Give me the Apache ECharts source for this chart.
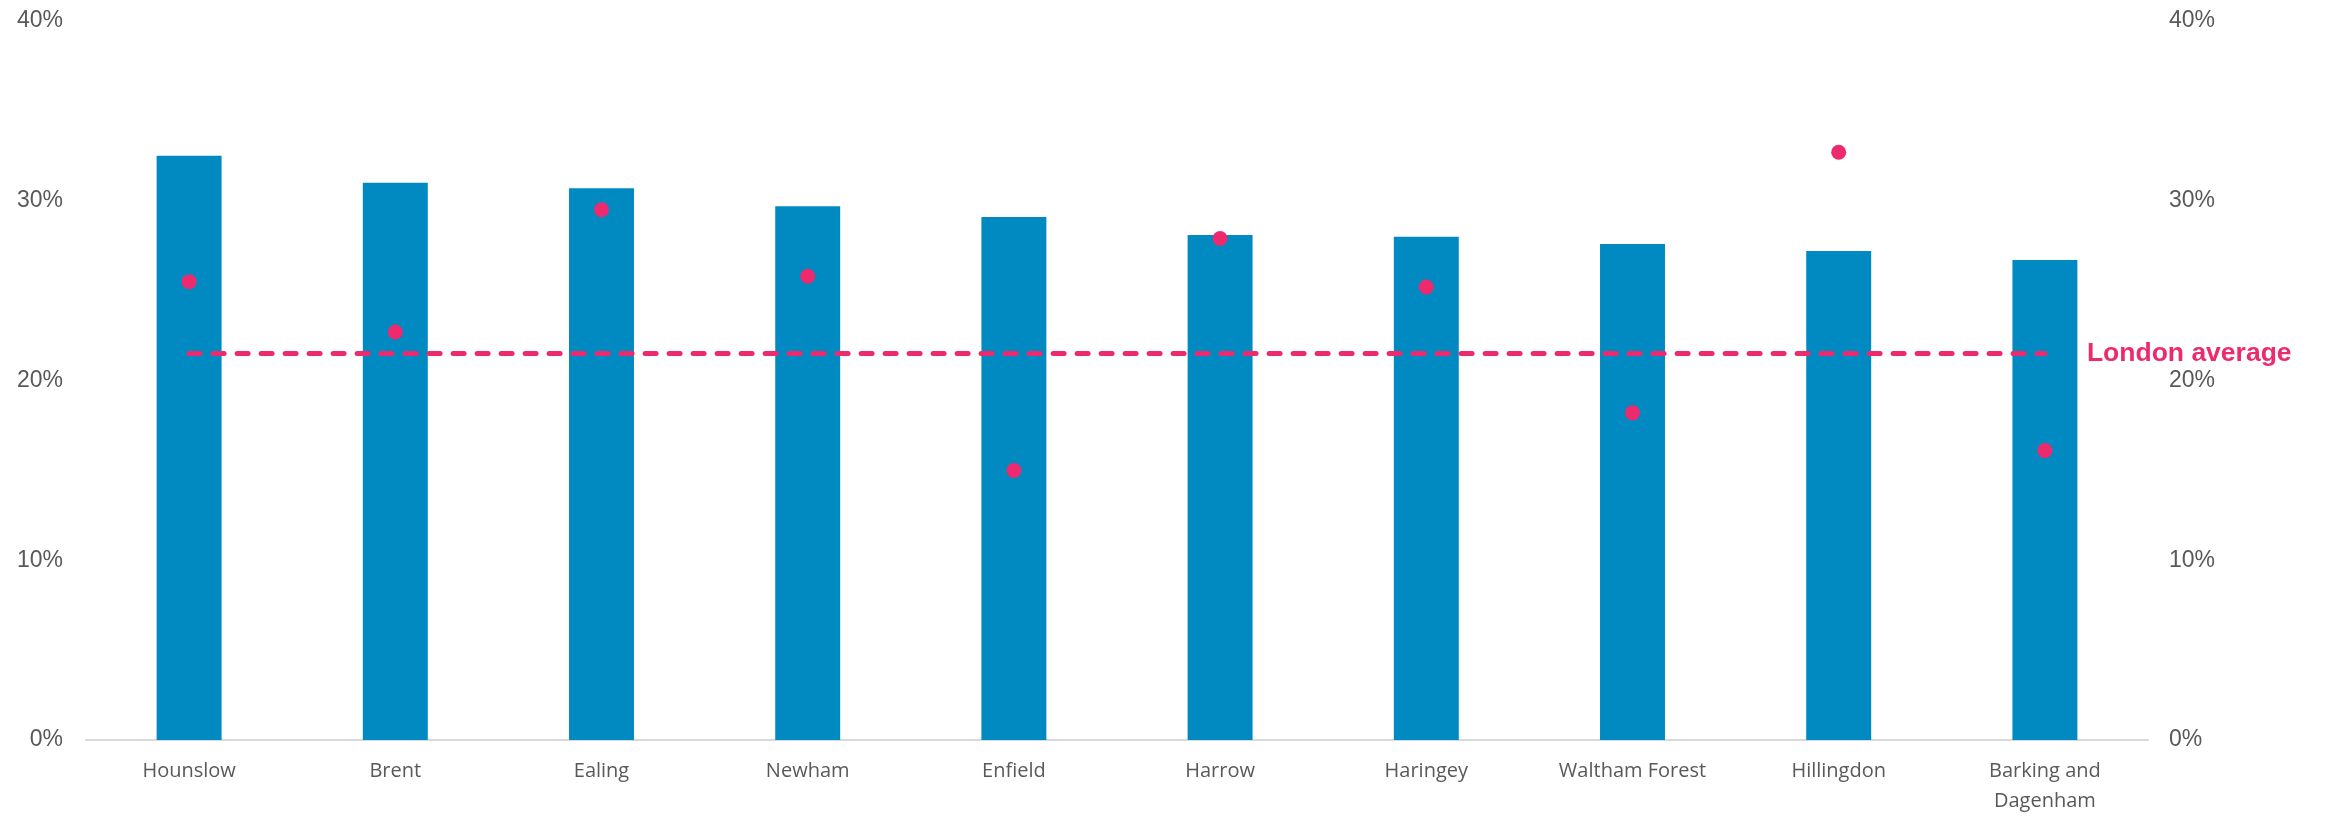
<!DOCTYPE html>
<html>
<head>
<meta charset="utf-8">
<script src="https://cdn.jsdelivr.net/npm/echarts@6/dist/echarts.min.js"></script>
<style>
html,body{margin:0;padding:0;background:#fff;}
#chart{width:2325px;height:816px;}
</style>
</head>
<body>
<div id="chart"></div>
<script>
const categories = ['Hounslow','Brent','Ealing','Newham','Enfield','Harrow','Haringey','Waltham Forest','Hillingdon','Barking and\nDagenham'];
const barValues = [32.5, 31.0, 30.7, 29.7, 29.1, 28.1, 28.0, 27.6, 27.2, 26.7];
const dotValues = [25.5, 22.7, 29.5, 25.8, 15.0, 27.9, 25.2, 18.2, 32.7, 16.1];
const londonAverage = 21.5;
const averageValues = categories.map(() => londonAverage);
const yTicks = { min: 0, max: 40, interval: 10 };

const pink = '#EE2A6F';
const blue = '#008AC1';
const labelGrey = '#595959';

const chart = echarts.init(document.getElementById('chart'));
const yAxisCommon = {
  type: 'value',
  min: yTicks.min, max: yTicks.max, interval: yTicks.interval,
  splitLine: { show: false },
  axisLine: { show: false },
  axisTick: { show: false },
  axisLabel: {
    formatter: '{value}%',
    color: labelGrey,
    fontFamily: 'Liberation Sans, Arial, sans-serif',
    fontSize: 23
  }
};
chart.setOption({
  animation: false,
  grid: { left: 86, right: 177, top: 21, bottom: 72, containLabel: false },
  xAxis: {
    type: 'category',
    data: categories,
    axisLine: { lineStyle: { color: '#d9d9d9', width: 2 } },
    axisTick: { show: false },
    axisLabel: {
      color: labelGrey,
      fontFamily: 'Open Sans, sans-serif',
      fontSize: 20,
      lineHeight: 30,
      margin: 16,
      interval: 0
    }
  },
  yAxis: [
    Object.assign({}, yAxisCommon, { position: 'left', axisLabel: Object.assign({}, yAxisCommon.axisLabel, { margin: 23 }) }),
    Object.assign({}, yAxisCommon, { position: 'right', axisLabel: Object.assign({}, yAxisCommon.axisLabel, { margin: 21 }) })
  ],
  series: [
    {
      type: 'bar',
      data: barValues,
      barWidth: '31.5%',
      itemStyle: { color: blue },
      z: 1
    },
    {
      type: 'line',
      data: averageValues,
      showSymbol: false,
      symbol: 'none',
      lineStyle: { color: pink, width: 5, type: [11, 13], cap: 'round' },
      endLabel: {
        show: true,
        formatter: 'London average',
        color: pink,
        fontWeight: 'bold',
        fontSize: 26.5,
        fontFamily: 'Liberation Sans, Arial, sans-serif',
        distance: 42
      },
      z: 2
    },
    {
      type: 'scatter',
      data: dotValues,
      symbol: 'circle',
      symbolSize: 15,
      itemStyle: { color: pink, opacity: 1 },
      z: 3
    }
  ]
});
</script>
</body>
</html>
